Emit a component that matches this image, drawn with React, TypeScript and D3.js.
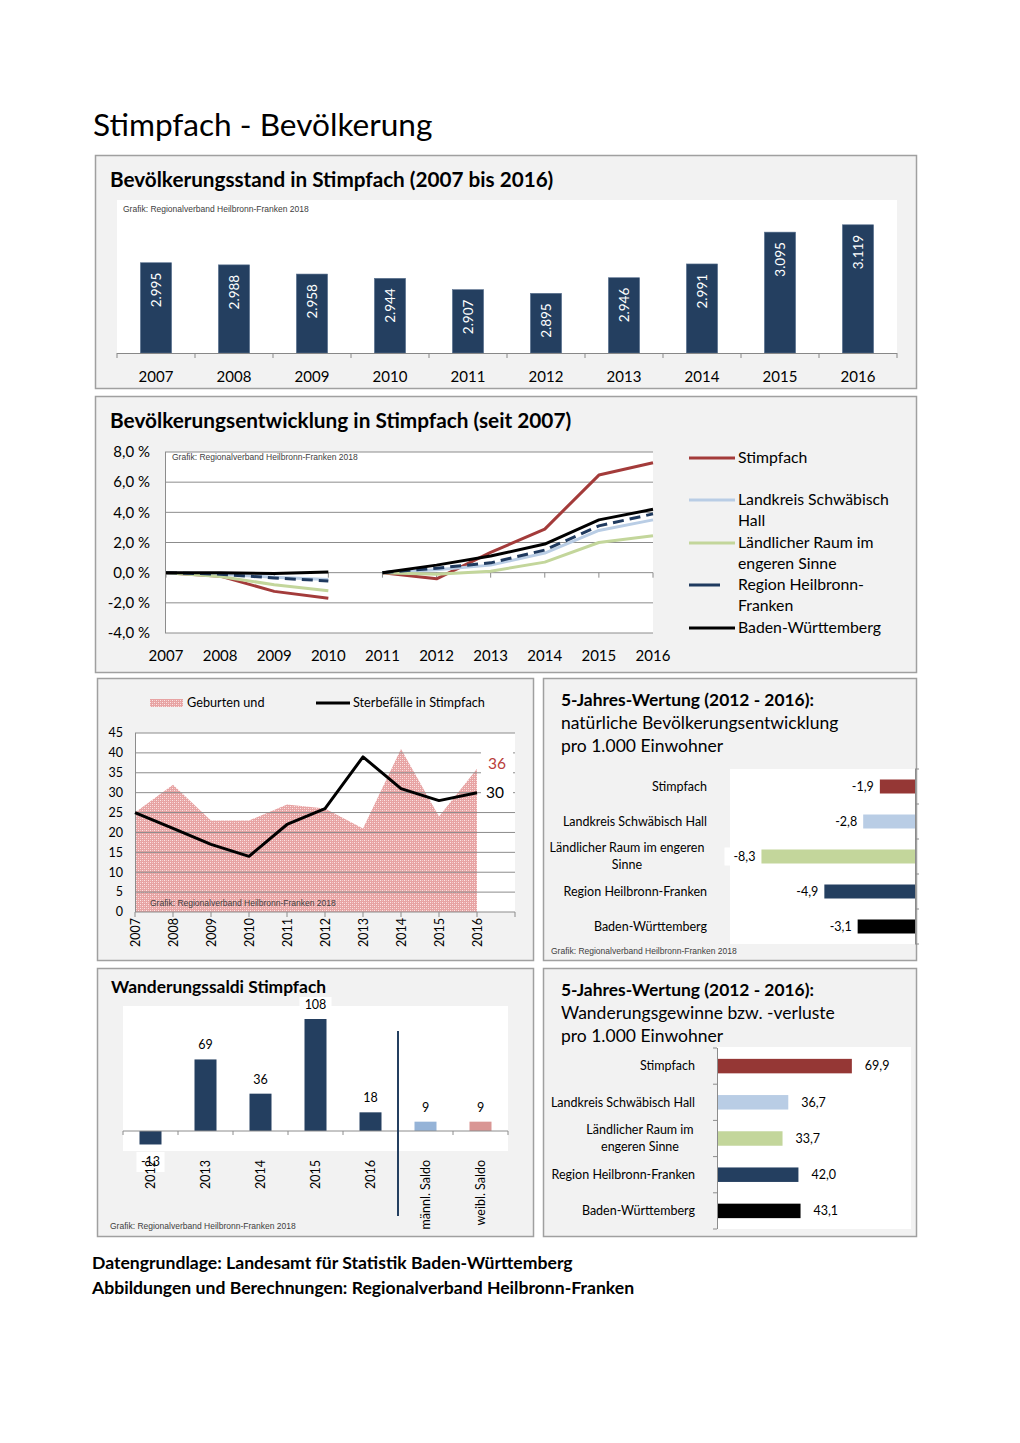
import React from "react";
import * as d3 from "d3";

// ---------- DATA ----------
const years = ["2007", "2008", "2009", "2010", "2011", "2012", "2013", "2014", "2015", "2016"];
const population = [2995, 2988, 2958, 2944, 2907, 2895, 2946, 2991, 3095, 3119];

const devYearsA = ["2007", "2008", "2009", "2010"];
const devYearsB = ["2011", "2012", "2013", "2014", "2015", "2016"];
const devStimpfachA = [0, -0.23, -1.24, -1.7];
const devStimpfachB = [0, -0.41, 1.34, 2.89, 6.47, 7.29];
const devLandkreisA = [0, -0.1, -0.3, -0.45];
const devLandkreisB = [0, 0.2, 0.5, 1.3, 2.8, 3.5];
const devLaendlichA = [0, -0.25, -0.8, -1.2];
const devLaendlichB = [0, -0.1, 0.1, 0.7, 2.0, 2.45];
const devRegionA = [0, -0.1, -0.35, -0.55];
const devRegionB = [0, 0.3, 0.65, 1.5, 3.1, 3.9];
const devBwA = [0, 0.0, -0.05, 0.05];
const devBwB = [0, 0.5, 1.1, 1.9, 3.5, 4.2];
const devTicks = [8, 6, 4, 2, 0, -2, -4];

const births = [25, 32, 23, 23, 27, 26, 21, 41, 24, 36];
const deaths = [25, 21, 17, 14, 22, 26, 39, 31, 28, 30];
const bdTicks = [0, 5, 10, 15, 20, 25, 30, 35, 40, 45];

const regions = ["Stimpfach", "Landkreis Schwäbisch Hall", "Ländlicher Raum im engeren Sinne", "Region Heilbronn-Franken", "Baden-Württemberg"];
const natLabelLines = [["Stimpfach"], ["Landkreis Schwäbisch Hall"], ["Ländlicher Raum im engeren", "Sinne"], ["Region Heilbronn-Franken"], ["Baden-Württemberg"]];
const migLabelLines = [["Stimpfach"], ["Landkreis Schwäbisch Hall"], ["Ländlicher Raum im", "engeren Sinne"], ["Region Heilbronn-Franken"], ["Baden-Württemberg"]];
const naturalValues = [-1.9, -2.8, -8.3, -4.9, -3.1];
const migrationValues = [69.9, 36.7, 33.7, 42.0, 43.1];

const wandCats = ["2012", "2013", "2014", "2015", "2016", "männl. Saldo", "weibl. Saldo"];
const wandValues = [-13, 69, 36, 108, 18, 9, 9];

// ---------- STYLE ----------
const FONT = "Lato, 'Open Sans', sans-serif";
const ARIAL = "'Liberation Sans', Arial, sans-serif";
const NAVY = "#243f60";
const RED = "#953735";
const LIGHTBLUE = "#b9cde5";
const GREEN = "#c3d69b";
const regionColors = [RED, LIGHTBLUE, GREEN, NAVY, "#000000"];
const PANEL_BG = "#f2f2f2";
const PANEL_BORDER = "#a0a0a0";
const GRID = "#8c8c8c";
const CREDIT = "Grafik: Regionalverband Heilbronn-Franken 2018";

const de = d3.formatLocale({ decimal: ",", thousands: ".", grouping: [3], currency: ["", "€"], minus: "-" });
const fmtInt = de.format(",d");
const fmt1 = de.format(",.1f");

function Panel({ x, y, w, h }: { x: number; y: number; w: number; h: number }) {
  return <rect x={x + 0.5} y={y + 0.5} width={w} height={h} fill={PANEL_BG} stroke={PANEL_BORDER} strokeWidth={1.5} />;
}

function Credit({ x, y }: { x: number; y: number }) {
  return (
    <text x={x} y={y} fontFamily={ARIAL} fontSize={8.5} fill="#404040">
      {CREDIT}
    </text>
  );
}

// ---------- Chart 1: Bevölkerungsstand ----------
function PopulationChart() {
  const x = d3.scaleBand().domain(years).range([117, 897]).paddingInner(0.6).paddingOuter(0.3);
  const step = x.step();
  const y = d3.scaleLinear().domain([2700, 3200]).range([353, 200]);
  const left = 117;
  return (
    <g>
      <Panel x={95} y={155} w={821} h={233} />
      <text x={110} y={187} fontFamily={FONT} fontWeight="bold" fontSize={20.7} fill="#000">
        Bevölkerungsstand in Stimpfach (2007 bis 2016)
      </text>
      <rect x={117} y={200} width={780} height={154} fill="#fff" />
      <Credit x={123} y={212} />
      {years.map((yr, i) => {
        const bx = x(yr)!;
        const v = population[i];
        const top = y(v);
        const cx = bx + x.bandwidth() / 2;
        return (
          <g key={yr}>
            <rect x={bx} y={top} width={x.bandwidth()} height={353 - top} fill={NAVY} stroke="#5c7290" strokeWidth={0.6} />
            <text
              transform={`translate(${cx},${top + 10}) rotate(-90)`}
              textAnchor="end"
              dy="0.36em"
              fontFamily={FONT}
              fontSize={13.5}
              fill="#fff"
            >
              {fmtInt(v)}
            </text>
            <text x={cx} y={382} textAnchor="middle" fontFamily={FONT} fontSize={15} fill="#000">
              {yr}
            </text>
          </g>
        );
      })}
      <line x1={left} x2={897} y1={353.5} y2={353.5} stroke="#888" strokeWidth={1} />
      {d3.range(years.length + 1).map((i) => (
        <line key={i} x1={left + i * step} x2={left + i * step} y1={353} y2={358} stroke="#888" strokeWidth={1} />
      ))}
    </g>
  );
}

// ---------- Chart 2: Bevölkerungsentwicklung ----------
function DevelopmentChart() {
  const x = d3.scalePoint().domain(years).range([166, 653]);
  const y = d3.scaleLinear().domain([-4, 8]).range([633, 452]);
  const line = d3
    .line<[string, number]>()
    .x((d) => x(d[0])!)
    .y((d) => y(d[1]));
  const seg = (ys: string[], vs: number[]) => line(ys.map((yy, i) => [yy, vs[i]] as [string, number]))!;
  const series = [
    { name: "Stimpfach", a: devStimpfachA, b: devStimpfachB, color: "#a33b3a", dash: undefined, width: 3 },
    { name: "LK", a: devLandkreisA, b: devLandkreisB, color: LIGHTBLUE, dash: undefined, width: 3 },
    { name: "LR", a: devLaendlichA, b: devLaendlichB, color: GREEN, dash: undefined, width: 3 },
    { name: "Region", a: devRegionA, b: devRegionB, color: "#1f3a5f", dash: "11 6", width: 3 },
    { name: "BW", a: devBwA, b: devBwB, color: "#000", dash: undefined, width: 3 },
  ];
  const legend = [
    { lines: ["Stimpfach"], y: 458, color: "#a33b3a", x2: 735 },
    { lines: ["Landkreis Schwäbisch", "Hall"], y: 500, color: LIGHTBLUE, x2: 735 },
    { lines: ["Ländlicher Raum im", "engeren Sinne"], y: 543, color: GREEN, x2: 735 },
    { lines: ["Region Heilbronn-", "Franken"], y: 585, color: "#1f3a5f", x2: 720 },
    { lines: ["Baden-Württemberg"], y: 628, color: "#000", x2: 735 },
  ];
  return (
    <g>
      <Panel x={95} y={396} w={821} h={276} />
      <text x={110} y={428} fontFamily={FONT} fontWeight="bold" fontSize={20.8} fill="#000">
        Bevölkerungsentwicklung in Stimpfach (seit 2007)
      </text>
      <rect x={165} y={452} width={488} height={181} fill="#fff" />
      {devTicks.map((t) => (
        <g key={t}>
          <line x1={165} x2={653} y1={y(t)} y2={y(t)} stroke={GRID} strokeWidth={1} />
          <text x={150} y={y(t)} dy="0.35em" textAnchor="end" fontFamily={FONT} fontSize={15} fill="#000">
            {fmt1(t)} %
          </text>
        </g>
      ))}
      <line x1={165.5} x2={165.5} y1={452} y2={633} stroke={GRID} strokeWidth={1} />
      {years.map((yr) => (
        <g key={yr}>
          <line x1={x(yr)} x2={x(yr)} y1={y(0)} y2={y(0) + 5} stroke={GRID} strokeWidth={1} />
          <text x={x(yr)} y={661} textAnchor="middle" fontFamily={FONT} fontSize={15} fill="#000">
            {yr}
          </text>
        </g>
      ))}
      <Credit x={172} y={460} />
      {series.map((s) => (
        <g key={s.name} fill="none" stroke={s.color} strokeWidth={s.width} strokeDasharray={s.dash} strokeLinejoin="round">
          <path d={seg(devYearsA, s.a)} />
          <path d={seg(devYearsB, s.b)} />
        </g>
      ))}
      {legend.map((l) => (
        <g key={l.lines[0]}>
          <line x1={689} x2={l.x2} y1={l.y} y2={l.y} stroke={l.color} strokeWidth={3} />
          {l.lines.map((t, i) => (
            <text key={t} x={738} y={l.y + 5 + i * 21} fontFamily={FONT} fontSize={15.8} fill="#000">
              {t}
            </text>
          ))}
        </g>
      ))}
    </g>
  );
}

// ---------- Chart 3: Geburten und Sterbefälle ----------
function BirthsDeathsChart() {
  const x = d3.scalePoint().domain(years).range([135, 477]);
  const step = x.step();
  const y = d3.scaleLinear().domain([0, 45]).range([912, 733]);
  const area = d3
    .area<number>()
    .x((_, i) => x(years[i])!)
    .y0(y(0))
    .y1((d) => y(d));
  const line = d3
    .line<number>()
    .x((_, i) => x(years[i])!)
    .y((d) => y(d));
  const last = years.length - 1;
  return (
    <g>
      <defs>
        <pattern id="birthPattern" width="4" height="4" patternUnits="userSpaceOnUse">
          <rect width="4" height="4" fill="#e7a3a3" />
          <rect x="0" y="0" width="1" height="1" fill="#fbe6e6" />
          <rect x="2" y="2" width="1" height="1" fill="#fbe6e6" />
          <rect x="2" y="0" width="1" height="1" fill="#f3c8c8" />
          <rect x="0" y="2" width="1" height="1" fill="#f3c8c8" />
        </pattern>
      </defs>
      <Panel x={97} y={678} w={436} h={282} />
      <rect x={150} y={699} width={33} height={8} fill="url(#birthPattern)" />
      <text x={187} y={707} fontFamily={FONT} fontSize={12.7} fill="#000">
        Geburten und
      </text>
      <line x1={316} x2={350} y1={703} y2={703} stroke="#000" strokeWidth={3} />
      <text x={353} y={707} fontFamily={FONT} fontSize={12.7} fill="#000">
        Sterbefälle in Stimpfach
      </text>
      <rect x={135} y={733} width={380} height={179} fill="#fff" />
      <path d={area(births)!} fill="url(#birthPattern)" />
      {bdTicks.map((t) => (
        <g key={t}>
          {t > 0 && <line x1={135} x2={515} y1={y(t)} y2={y(t)} stroke={GRID} strokeWidth={1} />}
          <text x={123} y={y(t)} dy="0.35em" textAnchor="end" fontFamily={FONT} fontSize={12.5} fill="#000">
            {t}
          </text>
        </g>
      ))}
      <line x1={135.5} x2={135.5} y1={733} y2={912} stroke={GRID} strokeWidth={1} />
      <line x1={135} x2={515} y1={912} y2={912} stroke={GRID} strokeWidth={1} />
      {d3.range(years.length + 1).map((i) => (
        <line key={i} x1={135 + i * step} x2={135 + i * step} y1={912} y2={917} stroke={GRID} strokeWidth={1} />
      ))}
      {years.map((yr) => (
        <text
          key={yr}
          transform={`translate(${x(yr)},${918}) rotate(-90)`}
          textAnchor="end"
          dy="0.36em"
          fontFamily={FONT}
          fontSize={12.5}
          fill="#000"
        >
          {yr}
        </text>
      ))}
      <path d={line(deaths)!} fill="none" stroke="#000" strokeWidth={3} strokeLinejoin="round" />
      <Credit x={150} y={906} />
      <rect x={481} y={752} width={32} height={22} fill="#fff" />
      <text x={488} y={769} fontFamily={FONT} fontSize={15.5} fill="#b83c3a">
        {births[last]}
      </text>
      <rect x={481} y={783} width={32} height={20} fill="#fff" />
      <text x={486} y={798} fontFamily={FONT} fontSize={15.5} fill="#000">
        {deaths[last]}
      </text>
    </g>
  );
}

// ---------- Chart 4: natürliche Bevölkerungsentwicklung ----------
function NaturalChart() {
  const yb = d3.scaleBand().domain(regions).range([769, 944]).paddingInner(0.6).paddingOuter(0.3);
  const x = d3.scaleLinear().domain([-10, 0]).range([730, 915]);
  const step = yb.step();
  return (
    <g>
      <Panel x={543} y={678} w={373} h={282} />
      <text x={561} y={706} fontFamily={FONT} fontWeight="bold" fontSize={17.4} fill="#000">
        5-Jahres-Wertung (2012 - 2016):
      </text>
      <text x={561} y={729} fontFamily={FONT} fontSize={17.5} fill="#000">
        natürliche Bevölkerungsentwicklung
      </text>
      <text x={561} y={752} fontFamily={FONT} fontSize={17.5} fill="#000">
        pro 1.000 Einwohner
      </text>
      <rect x={730} y={769} width={185} height={175} fill="#fff" />
      {regions.map((r, i) => {
        const by = yb(r)!;
        const v = naturalValues[i];
        const cy = by + yb.bandwidth() / 2;
        const lines = natLabelLines[i];
        const labelW = fmt1(v).length * 7 + 4;
        return (
          <g key={r}>
            <rect x={x(v)} y={by} width={x(0) - x(v)} height={yb.bandwidth()} fill={regionColors[i]} />
            <rect x={x(v) - 5 - labelW} y={cy - 9} width={labelW + 2} height={18} fill="#fff" />
            <text x={x(v) - 6} y={cy} dy="0.35em" textAnchor="end" fontFamily={FONT} fontSize={12.5} fill="#000">
              {fmt1(v)}
            </text>
            {lines.map((t, j) => (
              <text
                key={t}
                x={lines.length > 1 ? 627 : 707}
                y={cy + (j - (lines.length - 1) / 2) * 17}
                dy="0.35em"
                textAnchor={lines.length > 1 ? "middle" : "end"}
                fontFamily={FONT}
                fontSize={12.5}
                fill="#000"
              >
                {t}
              </text>
            ))}
          </g>
        );
      })}
      {d3.range(regions.length + 1).map((i) => (
        <line key={i} x1={915} x2={919} y1={769 + i * step} y2={769 + i * step} stroke={GRID} strokeWidth={1} />
      ))}
      <line x1={915.5} x2={915.5} y1={769} y2={944} stroke={GRID} strokeWidth={1} />
      <Credit x={551} y={954} />
    </g>
  );
}

// ---------- Chart 5: Wanderungssaldi ----------
function MigrationSaldiChart() {
  const x = d3.scaleBand().domain(wandCats).range([123, 508]).paddingInner(0.6).paddingOuter(0.3);
  const step = x.step();
  const y = d3.scaleLinear().domain([0, 108]).range([1131, 1019]);
  const colors = wandCats.map((_, i) => (i === 5 ? "#95b3d7" : i === 6 ? "#d99694" : NAVY));
  const dividerX = 123 + 5 * step;
  return (
    <g>
      <Panel x={97} y={968} w={436} h={268} />
      <text x={111} y={993} fontFamily={FONT} fontWeight="bold" fontSize={17.4} fill="#000">
        Wanderungssaldi Stimpfach
      </text>
      <rect x={123} y={1006} width={385} height={145} fill="#fff" />
      {wandCats.map((c, i) => {
        const bx = x(c)!;
        const v = wandValues[i];
        const top = Math.min(y(v), y(0));
        const h = Math.abs(y(v) - y(0));
        return <rect key={c} x={bx} y={top} width={x.bandwidth()} height={h} fill={colors[i]} />;
      })}
      <line x1={123} x2={508} y1={1131} y2={1131} stroke={GRID} strokeWidth={1} />
      {d3.range(wandCats.length + 1).map((i) => (
        <line key={i} x1={123 + i * step} x2={123 + i * step} y1={1131} y2={1135} stroke={GRID} strokeWidth={1} />
      ))}
      <line x1={dividerX} x2={dividerX} y1={1031} y2={1216} stroke={NAVY} strokeWidth={2} />
      {wandCats.map((c, i) => {
        const v = wandValues[i];
        const cx = x(c)! + x.bandwidth() / 2;
        if (v < 0) {
          return (
            <g key={c}>
              <rect x={cx - 14} y={1152} width={28} height={20} fill="#fff" />
              <text x={cx} y={1166} textAnchor="middle" fontFamily={FONT} fontSize={12.5} fill="#000">
                {v}
              </text>
            </g>
          );
        }
        const ty = y(v) - 10;
        return (
          <g key={c}>
            {v === d3.max(wandValues) && <rect x={cx - 16} y={ty - 12} width={32} height={16} fill="#fff" />}
            <text x={cx} y={ty} textAnchor="middle" fontFamily={FONT} fontSize={12.5} fill="#000">
              {v}
            </text>
          </g>
        );
      })}
      {wandCats.map((c) => {
        const cx = x(c)! + x.bandwidth() / 2;
        return (
          <text
            key={c}
            transform={`translate(${cx},${1160}) rotate(-90)`}
            textAnchor="end"
            dy="0.36em"
            fontFamily={FONT}
            fontSize={12.5}
            fill="#000"
          >
            {c}
          </text>
        );
      })}
      <Credit x={110} y={1229} />
    </g>
  );
}

// ---------- Chart 6: Wanderungsgewinne ----------
function MigrationChart() {
  const yb = d3.scaleBand().domain(regions).range([1048, 1229]).paddingInner(0.6).paddingOuter(0.3);
  const x = d3.scaleLinear().domain([0, 100]).range([718, 909.5]);
  const step = yb.step();
  return (
    <g>
      <Panel x={543} y={968} w={373} h={268} />
      <text x={561} y={996} fontFamily={FONT} fontWeight="bold" fontSize={17.4} fill="#000">
        5-Jahres-Wertung (2012 - 2016):
      </text>
      <text x={561} y={1019} fontFamily={FONT} fontSize={17.5} fill="#000">
        Wanderungsgewinne bzw. -verluste
      </text>
      <text x={561} y={1042} fontFamily={FONT} fontSize={17.5} fill="#000">
        pro 1.000 Einwohner
      </text>
      <rect x={717} y={1047} width={194} height={182} fill="#fff" />
      {regions.map((r, i) => {
        const by = yb(r)!;
        const v = migrationValues[i];
        const cy = by + yb.bandwidth() / 2;
        const lines = migLabelLines[i];
        return (
          <g key={r}>
            <rect x={x(0)} y={by} width={x(v) - x(0)} height={yb.bandwidth()} fill={regionColors[i]} />
            <text x={x(v) + 13} y={cy} dy="0.35em" fontFamily={FONT} fontSize={12.5} fill="#000">
              {fmt1(v)}
            </text>
            {lines.map((t, j) => (
              <text
                key={t}
                x={lines.length > 1 ? 640 : 695}
                y={cy + (j - (lines.length - 1) / 2) * 17}
                dy="0.35em"
                textAnchor={lines.length > 1 ? "middle" : "end"}
                fontFamily={FONT}
                fontSize={12.5}
                fill="#000"
              >
                {t}
              </text>
            ))}
          </g>
        );
      })}
      <line x1={717.5} x2={717.5} y1={1048} y2={1229} stroke={GRID} strokeWidth={1} />
      {d3.range(regions.length + 1).map((i) => (
        <line key={i} x1={713} x2={717} y1={1048 + i * step} y2={1048 + i * step} stroke={GRID} strokeWidth={1} />
      ))}
    </g>
  );
}

export default function App() {
  return (
    <div style={{ position: "absolute", left: 0, top: 0 }}>
      <svg width={1020} height={1443} viewBox="0 0 1020 1443" style={{ display: "block", background: "#fff" }}>
        <text x={93} y={136} fontFamily={FONT} fontSize={31.6} fill="#000">
          Stimpfach - Bevölkerung
        </text>
        <PopulationChart />
        <DevelopmentChart />
        <BirthsDeathsChart />
        <NaturalChart />
        <MigrationSaldiChart />
        <MigrationChart />
        <text x={92} y={1269} fontFamily={FONT} fontWeight="bold" fontSize={17.6} fill="#000">
          Datengrundlage: Landesamt für Statistik Baden-Württemberg
        </text>
        <text x={92} y={1294} fontFamily={FONT} fontWeight="bold" fontSize={17.6} fill="#000">
          Abbildungen und Berechnungen: Regionalverband Heilbronn-Franken
        </text>
      </svg>
    </div>
  );
}
